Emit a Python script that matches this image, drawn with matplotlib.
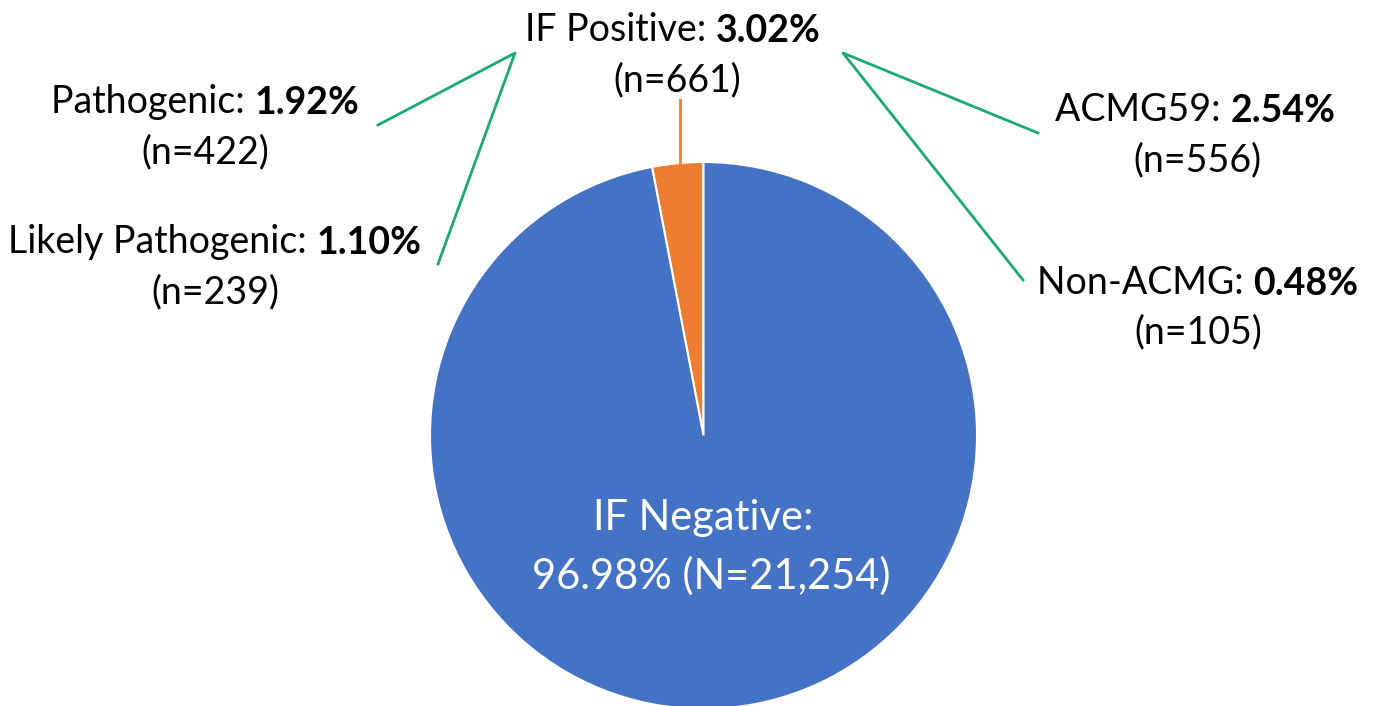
import matplotlib
matplotlib.use("Agg")
import matplotlib.pyplot as plt

# Data
slice_labels = ["IF Positive", "IF Negative"]
slice_counts = [661, 21254]
slice_colors = ["#ED7D31", "#4472C4"]

pos_pct = "3.02%"
neg_pct = "96.98%"
sub_left = [("Pathogenic: ", "1.92%", "(n=422)"),
            ("Likely Pathogenic: ", "1.10%", "(n=239)")]
sub_right = [("ACMG59: ", "2.54%", "(n=556)"),
             ("Non-ACMG: ", "0.48%", "(n=105)")]

W, H = 1374, 706
fig = plt.figure(figsize=(W / 100, H / 100), dpi=100)
ax = fig.add_axes([0, 0, 1, 1])
ax.set_xlim(0, W)
ax.set_ylim(0, H)
ax.set_aspect("equal")
ax.axis("off")

FONT = "Lato"
FS = 27
GREEN = "#1BA87A"

cx, cy, r = 703.5, H - 435.5, 273.5
ax.pie(slice_counts, colors=slice_colors, startangle=90, counterclock=True,
       center=(cx, cy), radius=r, frame=True,
       wedgeprops=dict(edgecolor="white", linewidth=1.5))
ax.set_xlim(0, W)
ax.set_ylim(0, H)
ax.axis("off")

def Y(py):
    return H - py

fig.canvas.draw()
renderer = fig.canvas.get_renderer()

def mixed(xc, py, reg, bold, color="black", fs=FS):
    t1 = ax.text(xc, Y(py), reg, fontsize=fs, family=FONT, color=color,
                 ha="left", va="center")
    t2 = ax.annotate(bold, xy=(1, 0), xycoords=t1, fontsize=fs, family=FONT,
                     fontweight="bold", color=color, ha="left", va="bottom")
    fig.canvas.draw()
    w1 = t1.get_window_extent(renderer).width
    w2 = t2.get_window_extent(renderer).width
    t1.set_x(xc - (w1 + w2) / 2)

def plain(xc, py, s, color="black", fs=FS):
    ax.text(xc, Y(py), s, fontsize=fs, family=FONT, color=color,
            ha="center", va="center")

# Top label
mixed(673, 30, "IF Positive: ", pos_pct)
plain(677, 80, "(n=661)")
ax.plot([680, 680], [Y(100), Y(162)], color="#ED7D31", lw=2)

# Left sub labels
mixed(205, 102, *sub_left[0][:2])
plain(205, 152, sub_left[0][2])
mixed(215, 242, *sub_left[1][:2])
plain(215, 292, sub_left[1][2])

# Right sub labels
mixed(1195, 110, *sub_right[0][:2])
plain(1197, 160, sub_right[0][2])
mixed(1198, 283, *sub_right[1][:2])
plain(1198, 332, sub_right[1][2])

# Green leader lines
ax.plot([378, 515, 438], [Y(125), Y(53), Y(264)], color=GREEN, lw=2)
ax.plot([1038, 843, 1023], [Y(133), Y(53), Y(280)], color=GREEN, lw=2)

# Negative label inside
plain(703, 518, "IF Negative:", color="white", fs=30)
plain(711, 576, neg_pct + " (N=21,254)", color="white", fs=30)

fig.savefig("out.png", dpi=100)
